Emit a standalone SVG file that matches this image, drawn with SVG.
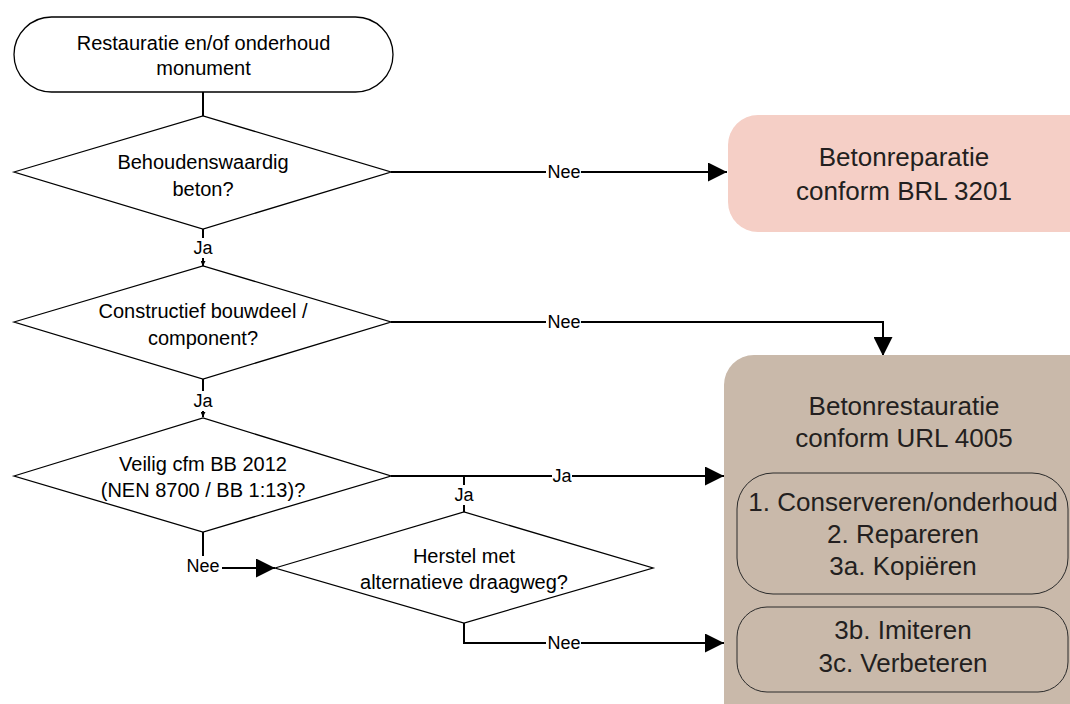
<svg xmlns="http://www.w3.org/2000/svg" width="1070" height="704" viewBox="0 0 1070 704">
<defs>
<style>
.shape{fill:#fff;stroke:#000;stroke-width:1.3}
.t{font-family:"Liberation Sans",Arial,sans-serif;font-size:20px;fill:#000;text-anchor:middle}
.big{font-family:"Liberation Sans",Arial,sans-serif;font-size:26px;fill:#231f20;text-anchor:middle}
.lbl{font-family:"Liberation Sans",Arial,sans-serif;font-size:18px;fill:#000;text-anchor:middle}
.lb{fill:#fff}
.c{fill:none;stroke:#000;stroke-width:2}
.inner{fill:none;stroke:#2b2b2b;stroke-width:1}
</style>
<marker id="big" viewBox="0 0 10 10" refX="10" refY="5" markerWidth="19" markerHeight="19" markerUnits="userSpaceOnUse" orient="auto"><path d="M0,0 L10,5 L0,10 z" fill="#000"/></marker>
<marker id="sm" viewBox="0 0 10 10" refX="10" refY="5" markerWidth="5" markerHeight="5" markerUnits="userSpaceOnUse" orient="auto"><path d="M0,0 L10,5 L0,10 z" fill="#000"/></marker>
</defs>
<rect width="1070" height="704" fill="#fff"/>

<g id="connectors">
<path class="c" d="M203,92 V116"/>
<path class="c" d="M203,229 V266" marker-end="url(#sm)"/>
<path class="c" d="M391,172 H727" marker-end="url(#big)"/>
<path class="c" d="M203,379 V417" marker-end="url(#sm)"/>
<path class="c" d="M391,322 H883 V356" marker-end="url(#big)"/>
<path class="c" d="M391,476 H724" marker-end="url(#big)"/>
<path class="c" d="M203,532 V568 H275" marker-end="url(#big)"/>
<path class="c" d="M464,512 V476"/>
<path class="c" d="M464,623 V643 H724" marker-end="url(#big)"/>
<rect class="lb" x="193" y="238" width="20" height="20"/>
<text class="lbl" x="203" y="254">Ja</text>
<rect class="lb" x="546" y="162" width="35" height="20"/>
<text class="lbl" x="564" y="178">Nee</text>
<rect class="lb" x="193" y="391" width="20" height="20"/>
<text class="lbl" x="203" y="407">Ja</text>
<rect class="lb" x="546" y="312" width="35" height="20"/>
<text class="lbl" x="564" y="328">Nee</text>
<rect class="lb" x="552" y="466" width="20" height="20"/>
<text class="lbl" x="562" y="482">Ja</text>
<rect class="lb" x="454" y="485" width="20" height="20"/>
<text class="lbl" x="464" y="501">Ja</text>
<rect class="lb" x="185" y="556" width="37" height="20"/>
<text class="lbl" x="203" y="572">Nee</text>
<rect class="lb" x="546" y="633" width="35" height="20"/>
<text class="lbl" x="564" y="649">Nee</text>
</g>

<g id="start">
<rect class="shape" x="14" y="17" width="379" height="75" rx="37.5"/>
<text class="t" x="203.5" y="50">Restauratie en/of onderhoud</text>
<text class="t" x="203.5" y="75">monument</text>
</g>

<g id="d1">
<polygon class="shape" points="14,172 203,116 391,172 203,229"/>
<text class="t" x="203" y="169">Behoudenswaardig</text>
<text class="t" x="203" y="196">beton?</text>
</g>

<g id="d2">
<polygon class="shape" points="14,322 203,266 391,322 203,379"/>
<text class="t" x="203" y="318">Constructief bouwdeel /</text>
<text class="t" x="203" y="345">component?</text>
</g>

<g id="d3">
<polygon class="shape" points="14,476 203,418 391,476 203,532"/>
<text class="t" x="203" y="471">Veilig cfm BB 2012</text>
<text class="t" x="203" y="497">(NEN 8700 / BB 1:13)?</text>
</g>

<g id="d4">
<polygon class="shape" points="275,568 464,512 653,568 464,623"/>
<text class="t" x="464" y="563">Herstel met</text>
<text class="t" x="464" y="589">alternatieve draagweg?</text>
</g>

<g id="brl">
<rect x="728" y="115" width="372" height="117" rx="30" fill="#f5cfc6"/>
<text class="big" x="904" y="166">Betonreparatie</text>
<text class="big" x="904" y="200">conform BRL 3201</text>
</g>

<g id="url">
<rect x="724" y="355" width="380" height="380" rx="30" fill="#c9b9aa"/>
<text class="big" x="904" y="415">Betonrestauratie</text>
<text class="big" x="904" y="447">conform URL 4005</text>
<g id="url-a">
<rect class="inner" x="737" y="473" width="331" height="121" rx="36"/>
<text class="big" x="903" y="511">1. Conserveren/onderhoud</text>
<text class="big" x="903" y="543">2. Repareren</text>
<text class="big" x="903" y="575">3a. Kopiëren</text>
</g>
<g id="url-b">
<rect class="inner" x="737" y="607" width="331" height="85" rx="30"/>
<text class="big" x="903" y="639">3b. Imiteren</text>
<text class="big" x="903" y="672">3c. Verbeteren</text>
</g>
</g>
</svg>
